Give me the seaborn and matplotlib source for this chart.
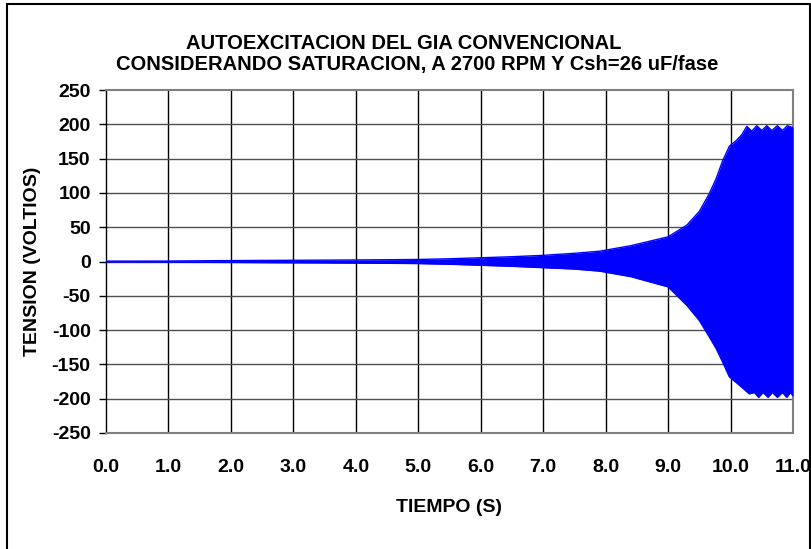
import matplotlib
matplotlib.use("Agg")
import matplotlib.pyplot as plt
import seaborn as sns
import pandas as pd
import numpy as np
from matplotlib.lines import Line2D

# Envelope of the phase voltage during self-excitation (time in s, voltage in V)
tiempo_sup = [0.0, 0.5, 1.0, 1.7, 2.5, 3.5, 4.0, 4.5, 5.0, 5.5, 6.0, 6.5, 7.0, 7.5,
              7.9, 8.4, 9.0, 9.3, 9.5, 9.66, 9.77, 9.87, 9.98, 10.1, 10.18, 10.26,
              10.34, 10.42, 10.5, 10.58, 10.66, 10.75, 10.83, 10.91, 11.0]
tension_sup = [0.6, 0.6, 0.7, 1.2, 1.6, 2.0, 2.3, 2.6, 3.0, 4.0, 5.5, 7.0, 9.0, 12.0,
               15, 23, 36, 53, 73, 99, 121, 146, 168, 177, 185, 197,
               190, 198, 191, 198, 191, 198, 191, 198, 195]

tiempo_inf = [0.0, 0.5, 1.0, 1.7, 2.5, 3.5, 4.0, 4.5, 5.0, 5.5, 6.0, 6.5, 7.0, 7.5,
              7.9, 8.4, 9.0, 9.3, 9.5, 9.66, 9.77, 9.87, 9.98, 10.15, 10.3, 10.38,
              10.45, 10.52, 10.6, 10.67, 10.75, 10.83, 10.9, 10.96, 11.0]
tension_inf = [-0.6, -0.6, -0.7, -1.2, -1.6, -2.0, -2.3, -2.6, -3.0, -4.0, -5.5, -7.0, -9.0, -11.0,
               -14, -22, -37, -64, -86, -110, -127, -146, -168, -181, -193, -191,
               -198, -191, -198, -191, -198, -191, -198, -191, -196]

x_ticks = [0, 1, 2, 3, 4, 5, 6, 7, 8, 9, 10, 11]
y_ticks = [-250, -200, -150, -100, -50, 0, 50, 100, 150, 200, 250]

sns.set_theme(style="white")
plt.rcParams["font.family"] = ["Liberation Sans", "DejaVu Sans"]
plt.rcParams["font.weight"] = "bold"

fig = plt.figure(figsize=(8.11, 5.49), dpi=100)
ax = fig.add_axes([0.1307, 0.2113, 0.8471, 0.6247])

azul = "#0000ff"
sup = pd.DataFrame({"t": tiempo_sup, "v": tension_sup})
inf = pd.DataFrame({"t": tiempo_inf, "v": tension_inf})

# Fill the band between both envelopes on a common time base
t_comun = sorted(set(tiempo_sup) | set(tiempo_inf))
v_sup = np.interp(t_comun, tiempo_sup, tension_sup)
v_inf = np.interp(t_comun, tiempo_inf, tension_inf)
ax.fill_between(t_comun, v_inf, v_sup, color=azul, linewidth=0, zorder=3)
sns.lineplot(data=sup, x="t", y="v", color=azul, linewidth=1.0, ax=ax, zorder=3)
sns.lineplot(data=inf, x="t", y="v", color=azul, linewidth=1.0, ax=ax, zorder=3)

fs = 14
ax.set_xlim(0, 11)
ax.set_ylim(-250, 250)
ax.set_xticks(x_ticks)
ax.set_xticklabels([f"{v:.1f}" for v in x_ticks], fontsize=fs, fontweight="bold")
ax.set_yticks(y_ticks)
ax.set_yticklabels([str(v) for v in y_ticks], fontsize=fs, fontweight="bold")

# Grid: vertical black lines, horizontal dark grey lines
for xv in x_ticks[1:-1]:
    ax.axvline(xv, color="black", linewidth=1.0, zorder=1)
for yv in y_ticks[1:-1]:
    ax.axhline(yv, color="#505050", linewidth=1.0, zorder=1)

for side in ["top", "right", "bottom"]:
    ax.spines[side].set_color("#808080")
    ax.spines[side].set_linewidth(1.5)
ax.spines["left"].set_color("black")
ax.spines["left"].set_linewidth(1.0)

ax.tick_params(axis="y", which="major", left=True, length=5, width=1, color="black",
               pad=6, labelcolor="black")
ax.tick_params(axis="x", which="major", bottom=False, length=0, pad=19, labelcolor="black")

ax.set_xlabel("TIEMPO (S)", fontsize=fs, fontweight="bold", color="black", labelpad=16)
ax.set_ylabel("TENSION (VOLTIOS)", fontsize=fs, fontweight="bold", color="black", labelpad=8)

fig.text(0.498, 1 - 44 / 549, "AUTOEXCITACION DEL GIA CONVENCIONAL", ha="center", va="center",
         fontsize=14.5, fontweight="bold", color="black")
fig.text(0.515, 1 - 64 / 549, "CONSIDERANDO SATURACION, A 2700 RPM Y Csh=26 uF/fase", ha="center",
         va="center", fontsize=14.5, fontweight="bold", color="black")

# Chart frame (left, top, right edges)
marco = dict(color="black", linewidth=1.5, transform=fig.transFigure)
fig.add_artist(Line2D([0.009, 0.009], [0.0, 0.993], **marco))
fig.add_artist(Line2D([0.009, 0.999], [0.993, 0.993], **marco))
fig.add_artist(Line2D([0.999, 0.999], [0.0, 0.993], **marco))

fig.savefig("out.png", dpi=100)
